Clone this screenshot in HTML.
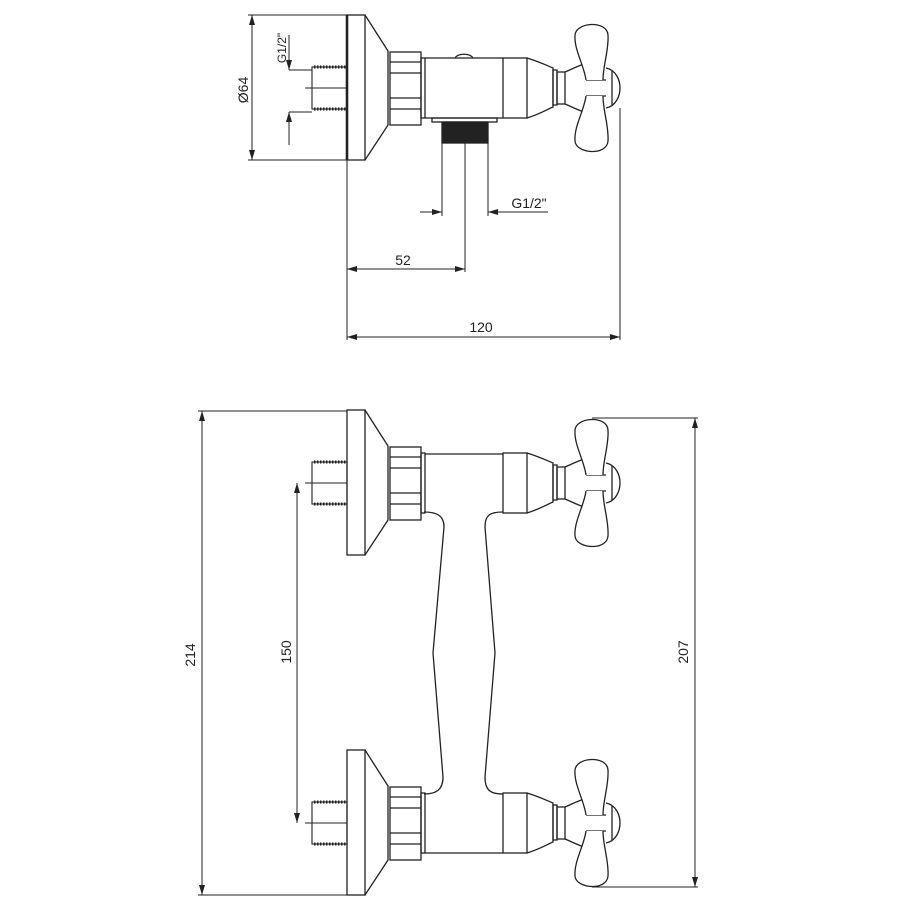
<!DOCTYPE html>
<html><head><meta charset="utf-8"><style>
html,body{margin:0;padding:0;background:#fff;}
svg{display:block;}
text{font-family:"Liberation Sans Narrow","Liberation Sans",sans-serif;font-size:14px;fill:#222;}
</style></head><body>
<svg width="917" height="917" viewBox="0 0 917 917" xmlns="http://www.w3.org/2000/svg">
<defs>
<marker id="ar" viewBox="0 0 10 6" refX="10" refY="3" markerWidth="10" markerHeight="6" orient="auto-start-reverse" markerUnits="userSpaceOnUse">
<path d="M0,0 L10,3 L0,6 Z" fill="#222"/></marker>
<g id="a" fill="none" stroke="#222" stroke-width="1.3">
<rect x="347" y="-73" width="18" height="145" fill="#fff"/>
<path d="M365,-73 L388,-37 L388,37 L365,72"/>
<rect x="390" y="-36" width="31" height="73"/>
<path d="M390,-26 H421 M390,-15 H421 M390,10 H421 M390,21 H421"/>
<rect x="421" y="-30" width="4" height="60"/>
<rect x="503" y="-30" width="24" height="60"/>
<path d="M527,-30 C540,-26 548,-22 553,-20 L553,19 C548,21 540,26 527,30"/>
<rect x="553" y="-18" width="4" height="35"/>
<rect x="557" y="-16" width="8" height="32"/>
<path d="M565,-16 C572,-19 578,-22 584,-24 M565,16 C572,19 578,22 584,24"/>
<path d="M606,-20 C616,-18 620,-8 620,0 C620,8 616,18 606,20"/>
<path d="M612,-17 V17 M586,-8 H606 M586,8 H606"/>
<path d="M586,-8 C584,-23 574,-38 575,-53 C576,-66 607,-68 608,-53 C609,-38 603,-23 603,-8" fill="#fff"/>
<path d="M586,8 C584,23 574,38 575,53 C576,66 607,68 608,53 C609,38 603,23 603,8" fill="#fff"/>
<rect x="312" y="-21" width="35" height="42" stroke-width="1.1"/>
<path d="M314,-21 H347 M314,21 H347" stroke-width="3" stroke-dasharray="1.5 1.5"/>
<path d="M305,0 H347" stroke-width="1"/>
</g>
</defs>

<use href="#a" transform="translate(0,88)"/>
<g fill="none" stroke="#222" stroke-width="1.3">
<path d="M347,15 V160" stroke-width="2.6"/>
<path d="M425,58 H503 M425,118 H503"/>
<path d="M455,58 C458,53 470,53 473,58"/>
<rect x="432" y="118" width="65" height="4"/>
<rect x="442" y="122" width="46" height="21" fill="#222"/>
<path d="M248,15 H347 M248,160 H347" stroke-width="1"/>
<path d="M252,15 V160" stroke-width="1" marker-start="url(#ar)" marker-end="url(#ar)"/>
<path d="M289,70 H312 M289,112 H312" stroke-width="1"/>
<path d="M289,35 V70" stroke-width="1" marker-end="url(#ar)"/>
<path d="M289,145 V112" stroke-width="1" marker-end="url(#ar)"/>
<path d="M347,160 V340 M620,108 V340 M465,142 V272 M442,143 V216 M488,143 V216" stroke-width="1"/>
<path d="M420,212 H442" stroke-width="1" marker-end="url(#ar)"/>
<path d="M548,212 H488" stroke-width="1" marker-end="url(#ar)"/>
<path d="M347,269 H465" stroke-width="1" marker-start="url(#ar)" marker-end="url(#ar)"/>
<path d="M347,337 H620" stroke-width="1" marker-start="url(#ar)" marker-end="url(#ar)"/>
</g>
<text x="0" y="0" transform="translate(248,90) rotate(-90)" text-anchor="middle">Ø64</text>
<text x="0" y="0" transform="translate(286,48) rotate(-90)" text-anchor="middle" style="font-size:12px">G1/2"</text>
<text x="529" y="208" text-anchor="middle">G1/2"</text>
<text x="403" y="265" text-anchor="middle">52</text>
<text x="481" y="332" text-anchor="middle">120</text>

<use href="#a" transform="translate(0,483)"/>
<use href="#a" transform="translate(0,823)"/>
<g fill="none" stroke="#222" stroke-width="1.3">
<path d="M425,454 H503 M425,853 H503"/>
<path d="M424,512 C436,512 444,515 444,527 L433,653 L443,777 C443,790 436,794 424,794"/>
<path d="M503,512 C490,512 485,515 485,527 L495,653 L485,777 C485,790 490,794 503,794"/>
<path d="M198,411 H347 M198,895 H347" stroke-width="1"/>
<path d="M202,411 V895" stroke-width="1" marker-start="url(#ar)" marker-end="url(#ar)"/>
<path d="M297,483 V823" stroke-width="1" marker-start="url(#ar)" marker-end="url(#ar)"/>
<path d="M592,418 H698 M592,887 H698" stroke-width="1"/>
<path d="M695,418 V887" stroke-width="1" marker-start="url(#ar)" marker-end="url(#ar)"/>
</g>
<text x="0" y="0" transform="translate(195,655) rotate(-90)" text-anchor="middle">214</text>
<text x="0" y="0" transform="translate(291,652) rotate(-90)" text-anchor="middle">150</text>
<text x="0" y="0" transform="translate(688,652) rotate(-90)" text-anchor="middle">207</text>
</svg>
</body></html>
